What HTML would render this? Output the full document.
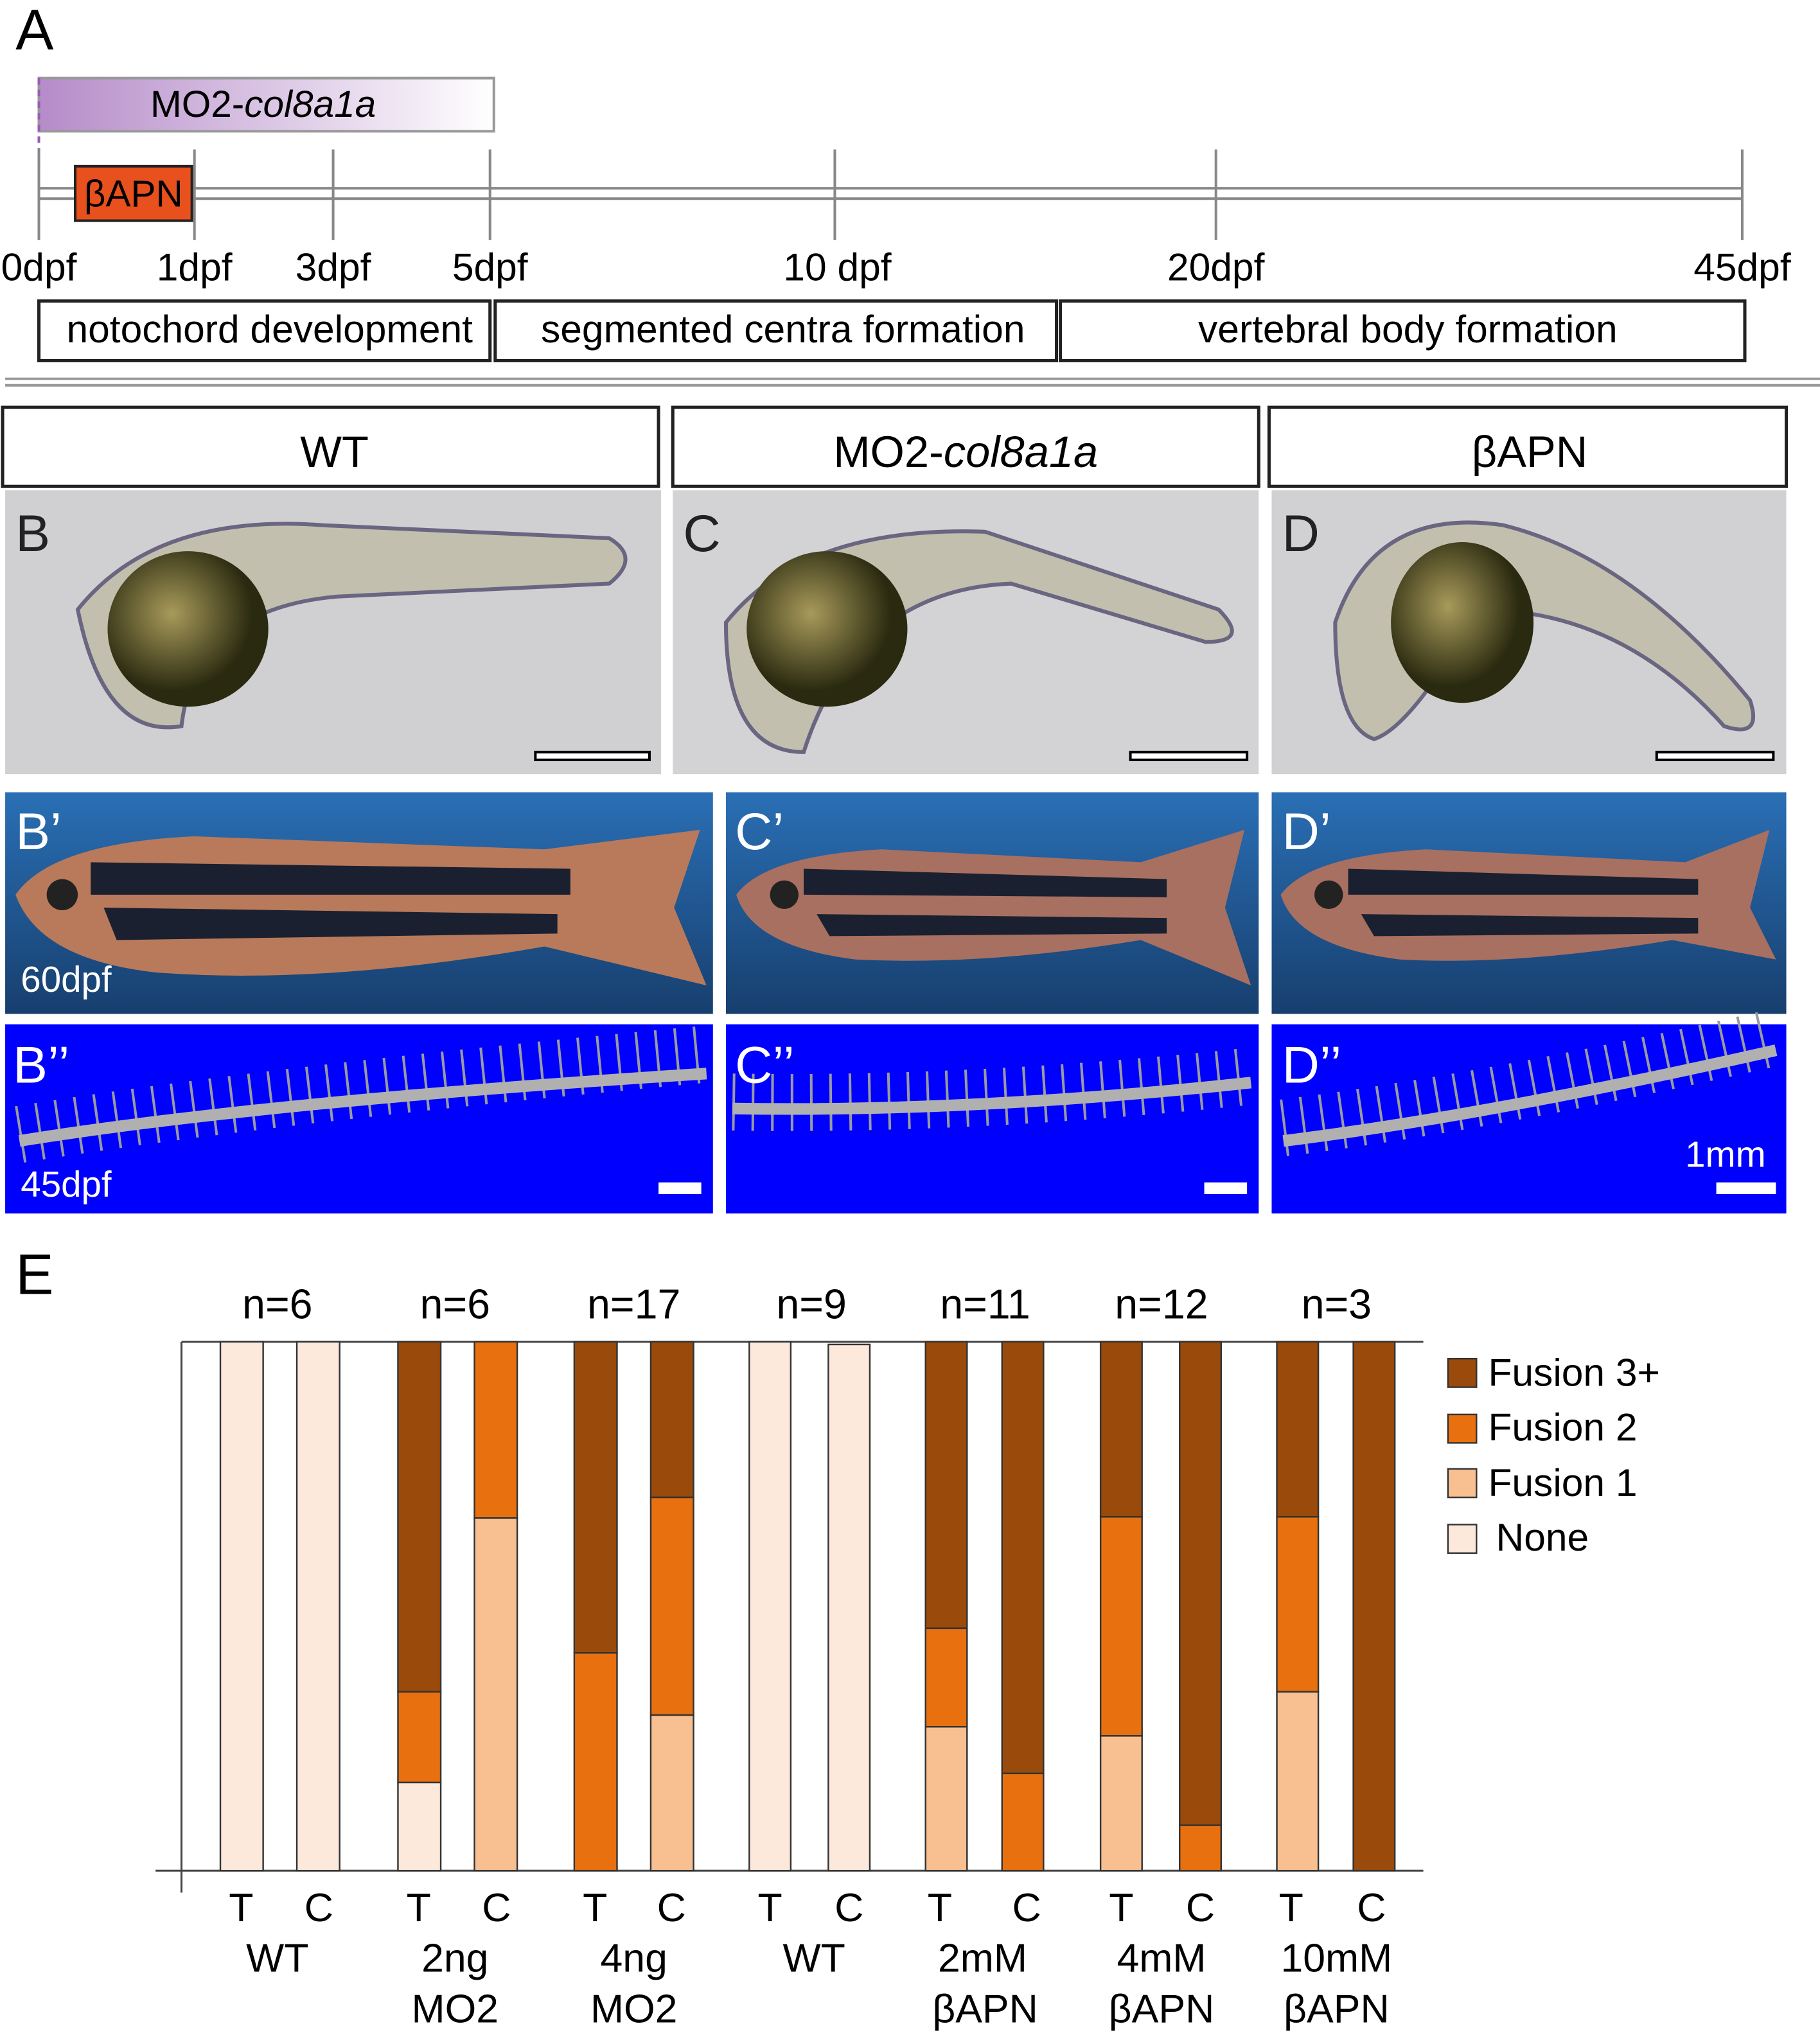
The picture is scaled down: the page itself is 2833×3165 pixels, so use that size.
<!DOCTYPE html>
<html><head><meta charset="utf-8"><style>html,body{margin:0;padding:0;background:#fff}svg{display:block}</style></head><body>
<svg width="2833" height="3165" viewBox="0 0 1404 1568" xmlns="http://www.w3.org/2000/svg" font-family="Liberation Sans, sans-serif">
<defs>
<linearGradient id="mo" x1="0" x2="1"><stop offset="0" stop-color="#b58bc9"/><stop offset="1" stop-color="#ffffff"/></linearGradient>
<linearGradient id="bl" x1="0" x2="0" y1="0" y2="1"><stop offset="0" stop-color="#2a6fb5"/><stop offset="1" stop-color="#173f6e"/></linearGradient>
<radialGradient id="yk" cx="0.4" cy="0.4"><stop offset="0" stop-color="#a89a5a"/><stop offset="1" stop-color="#2a2a10"/></radialGradient>
</defs>
<text x="12" y="38" font-size="44">A</text>
<rect x="30" y="60" width="351" height="41" fill="url(#mo)" stroke="#999" stroke-width="2"/>
<text x="203" y="90" font-size="29" text-anchor="middle">MO2-<tspan font-style="italic">col8a1a</tspan></text>
<line x1="30" y1="60" x2="30" y2="130" stroke="#9a5ab5" stroke-width="2" stroke-dasharray="5,4"/>
<line x1="30" y1="145" x2="1344" y2="145" stroke="#888" stroke-width="2"/>
<line x1="30" y1="153" x2="1344" y2="153" stroke="#888" stroke-width="2"/>
<g stroke="#888" stroke-width="2">
<line x1="30" y1="115" x2="30" y2="185"/><line x1="150" y1="115" x2="150" y2="185"/><line x1="257" y1="115" x2="257" y2="185"/><line x1="378" y1="115" x2="378" y2="185"/><line x1="644" y1="115" x2="644" y2="185"/><line x1="938" y1="115" x2="938" y2="185"/><line x1="1344" y1="115" x2="1344" y2="185"/>
</g>
<rect x="58" y="128" width="90" height="42" fill="#e8501e" stroke="#222" stroke-width="2"/>
<text x="103" y="159" font-size="29" text-anchor="middle">βAPN</text>
<g font-size="30" text-anchor="middle">
<text x="30" y="216">0dpf</text><text x="150" y="216">1dpf</text><text x="257" y="216">3dpf</text><text x="378" y="216">5dpf</text><text x="646" y="216">10 dpf</text><text x="938" y="216">20dpf</text><text x="1344" y="216">45dpf</text>
</g>
<g fill="none" stroke="#222" stroke-width="2.5">
<rect x="30" y="232" width="348" height="46"/><rect x="382" y="232" width="433" height="46"/><rect x="818" y="232" width="528" height="46"/>
</g>
<g font-size="30" text-anchor="middle">
<text x="208" y="264">notochord development</text><text x="604" y="264">segmented centra formation</text><text x="1086" y="264">vertebral body formation</text>
</g>
<line x1="4" y1="292" x2="1404" y2="292" stroke="#999" stroke-width="2"/>
<line x1="4" y1="297" x2="1404" y2="297" stroke="#999" stroke-width="2"/>
<g fill="none" stroke="#222" stroke-width="2.5">
<rect x="2" y="314" width="506" height="61"/><rect x="519" y="314" width="452" height="61"/><rect x="979" y="314" width="399" height="61"/>
</g>
<g font-size="34" text-anchor="middle">
<text x="258" y="360">WT</text><text x="745" y="360">MO2-<tspan font-style="italic">col8a1a</tspan></text><text x="1180" y="360">βAPN</text>
</g>
<rect x="4" y="378" width="506" height="219" fill="#d0d0d3"/>
<rect x="519" y="378" width="452" height="219" fill="#d3d3d5"/>
<rect x="981" y="378" width="397" height="219" fill="#d1d1d3"/>
<g fill="#c2bfae" stroke="#6a6580" stroke-width="3">
<path d="M60 470 Q120 395 250 405 L470 415 Q495 430 470 450 L260 460 Q150 470 140 560 Q80 570 60 470Z"/>
<path d="M560 480 Q620 405 760 410 L940 470 Q965 495 930 495 L780 450 Q660 455 620 580 Q560 580 560 480Z"/>
<path d="M1030 480 Q1060 390 1160 405 Q1260 430 1350 540 Q1360 570 1330 560 Q1250 470 1140 470 Q1090 560 1060 570 Q1030 560 1030 480Z"/>
</g>
<ellipse cx="145" cy="485" rx="62" ry="60" fill="url(#yk)"/>
<ellipse cx="638" cy="485" rx="62" ry="60" fill="url(#yk)"/>
<ellipse cx="1128" cy="480" rx="55" ry="62" fill="url(#yk)"/>
<g fill="#fff" stroke="#000" stroke-width="2">
<rect x="413" y="580" width="88" height="6"/><rect x="872" y="580" width="90" height="6"/><rect x="1278" y="580" width="90" height="6"/>
</g>
<g font-size="40" fill="#222"><text x="12" y="425">B</text><text x="527" y="425">C</text><text x="989" y="425">D</text></g>
<rect x="4" y="611" width="546" height="171" fill="url(#bl)"/>
<rect x="560" y="611" width="411" height="171" fill="url(#bl)"/>
<rect x="981" y="611" width="397" height="171" fill="url(#bl)"/>
<g>
<path d="M12 690 Q40 650 150 645 L420 655 L540 640 L520 700 L545 760 L420 730 Q250 760 120 750 Q30 740 12 690Z" fill="#b87a5a"/>
<path d="M70 665 L440 670 L440 690 L70 690Z" fill="#1a2030"/><path d="M80 700 L430 705 L430 720 L90 725Z" fill="#1a2030"/>
<circle cx="48" cy="690" r="12" fill="#222"/>
<path d="M568 690 Q590 660 680 655 L880 665 L960 640 L945 700 L965 760 L880 725 Q760 745 660 740 Q580 730 568 690Z" fill="#a87060"/>
<path d="M620 670 L900 678 L900 692 L620 690Z" fill="#1a2030"/><path d="M630 705 L900 708 L900 720 L640 722Z" fill="#1a2030"/>
<circle cx="605" cy="690" r="11" fill="#222"/>
<path d="M988 690 Q1010 660 1100 655 L1300 665 L1365 640 L1350 700 L1370 740 L1290 725 Q1170 745 1080 740 Q1000 730 988 690Z" fill="#a87060"/>
<path d="M1040 670 L1310 678 L1310 690 L1040 690Z" fill="#1a2030"/><path d="M1050 705 L1310 708 L1310 720 L1060 722Z" fill="#1a2030"/>
<circle cx="1025" cy="690" r="11" fill="#222"/>
</g>
<g font-size="40" fill="#fff"><text x="12" y="655">B’</text><text x="567" y="655">C’</text><text x="989" y="655">D’</text></g>
<text x="16" y="765" font-size="28" fill="#fff">60dpf</text>
<rect x="4" y="790" width="546" height="146" fill="#0000ff"/>
<rect x="560" y="790" width="411" height="146" fill="#0000ff"/>
<rect x="981" y="790" width="397" height="146" fill="#0000ff"/>
<g stroke="#9a9aa0" fill="none" stroke-width="44" stroke-dasharray="2,13">
<path d="M15 875 Q200 845 545 813"/>
<path d="M565 850 Q750 853 965 830"/>
<path d="M990 870 Q1150 850 1370 800"/>
</g>
<g stroke="#b0b0b0" fill="none" stroke-width="9">
<path d="M15 880 Q200 850 545 828"/>
<path d="M565 855 Q750 858 965 835"/>
<path d="M990 880 Q1150 860 1370 810"/>
</g>
<g fill="#fff"><rect x="508" y="912" width="33" height="9"/><rect x="929" y="912" width="33" height="9"/><rect x="1324" y="912" width="46" height="9"/></g>
<g font-size="40" fill="#fff"><text x="10" y="835">B’’</text><text x="567" y="835">C’’</text><text x="989" y="835">D’’</text></g>
<text x="16" y="923" font-size="28" fill="#fff">45dpf</text>
<text x="1300" y="900" font-size="28" fill="#fff">1mm</text>
<text x="12" y="998" font-size="44">E</text>
<line x1="140" y1="1035" x2="140" y2="1460" stroke="#444" stroke-width="1.5"/>
<line x1="120" y1="1443" x2="1098" y2="1443" stroke="#444" stroke-width="1.5"/>
<line x1="140" y1="1035" x2="1098" y2="1035" stroke="#444" stroke-width="1.5"/>
<g stroke="#333" stroke-width="1.2">
<rect x="170" y="1035" width="33" height="408" fill="#fde8dc"/>
<rect x="229" y="1035" width="33" height="408" fill="#fde8dc"/>
<rect x="307" y="1035" width="33" height="270" fill="#9a4a0a"/><rect x="307" y="1305" width="33" height="70" fill="#e8700f"/><rect x="307" y="1375" width="33" height="68" fill="#fde8dc"/>
<rect x="366" y="1035" width="33" height="136" fill="#e8700f"/><rect x="366" y="1171" width="33" height="272" fill="#f8c090"/>
<rect x="443" y="1035" width="33" height="240" fill="#9a4a0a"/><rect x="443" y="1275" width="33" height="168" fill="#e8700f"/>
<rect x="502" y="1035" width="33" height="120" fill="#9a4a0a"/><rect x="502" y="1155" width="33" height="168" fill="#e8700f"/><rect x="502" y="1323" width="33" height="120" fill="#f8c090"/>
<rect x="578" y="1035" width="32" height="408" fill="#fde8dc"/>
<rect x="639" y="1037" width="32" height="406" fill="#fde8dc"/>
<rect x="714" y="1035" width="32" height="221" fill="#9a4a0a"/><rect x="714" y="1256" width="32" height="76" fill="#e8700f"/><rect x="714" y="1332" width="32" height="111" fill="#f8c090"/>
<rect x="773" y="1035" width="32" height="333" fill="#9a4a0a"/><rect x="773" y="1368" width="32" height="75" fill="#e8700f"/>
<rect x="849" y="1035" width="32" height="135" fill="#9a4a0a"/><rect x="849" y="1170" width="32" height="169" fill="#e8700f"/><rect x="849" y="1339" width="32" height="104" fill="#f8c090"/>
<rect x="910" y="1035" width="32" height="373" fill="#9a4a0a"/><rect x="910" y="1408" width="32" height="35" fill="#e8700f"/>
<rect x="985" y="1035" width="32" height="135" fill="#9a4a0a"/><rect x="985" y="1170" width="32" height="135" fill="#e8700f"/><rect x="985" y="1305" width="32" height="138" fill="#f8c090"/>
<rect x="1044" y="1035" width="32" height="408" fill="#9a4a0a"/>
</g>
<g font-size="32" text-anchor="middle">
<text x="214" y="1017">n=6</text><text x="351" y="1017">n=6</text><text x="489" y="1017">n=17</text><text x="626" y="1017">n=9</text><text x="760" y="1017">n=11</text><text x="896" y="1017">n=12</text><text x="1031" y="1017">n=3</text>
</g>
<g font-size="31" text-anchor="middle">
<text x="186" y="1482">T</text><text x="246" y="1482">C</text><text x="323" y="1482">T</text><text x="383" y="1482">C</text><text x="459" y="1482">T</text><text x="518" y="1482">C</text><text x="594" y="1482">T</text><text x="655" y="1482">C</text><text x="725" y="1482">T</text><text x="792" y="1482">C</text><text x="865" y="1482">T</text><text x="926" y="1482">C</text><text x="996" y="1482">T</text><text x="1058" y="1482">C</text>
<text x="214" y="1521">WT</text><text x="351" y="1521">2ng</text><text x="489" y="1521">4ng</text><text x="628" y="1521">WT</text><text x="758" y="1521">2mM</text><text x="896" y="1521">4mM</text><text x="1031" y="1521">10mM</text>
<text x="351" y="1560">MO2</text><text x="489" y="1560">MO2</text><text x="760" y="1560">βAPN</text><text x="896" y="1560">βAPN</text><text x="1031" y="1560">βAPN</text>
</g>
<g stroke="#333" stroke-width="1.2">
<rect x="1117" y="1048" width="22" height="22" fill="#9a4a0a"/><rect x="1117" y="1091" width="22" height="22" fill="#e8700f"/><rect x="1117" y="1133" width="22" height="22" fill="#f8c090"/><rect x="1117" y="1176" width="22" height="22" fill="#fde8dc"/>
</g>
<g font-size="30"><text x="1148" y="1069">Fusion 3+</text><text x="1148" y="1111">Fusion 2</text><text x="1148" y="1154">Fusion 1</text><text x="1154" y="1196">None</text></g>
</svg>
</body></html>
